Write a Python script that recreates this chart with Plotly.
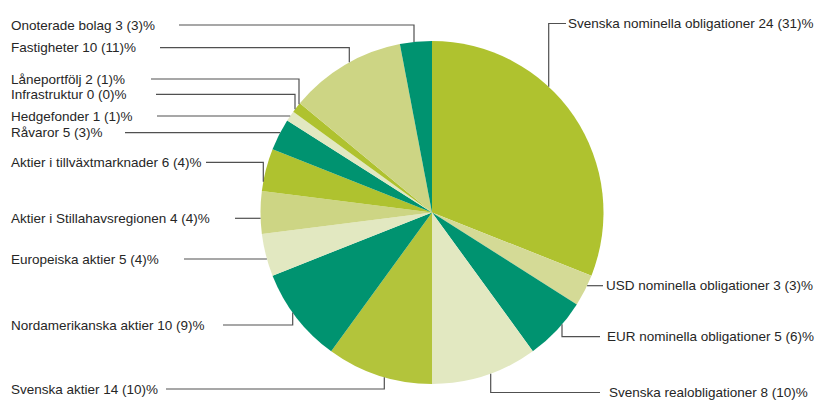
import math
import plotly.graph_objects as go

# ---- data ----
categories = [
    "Svenska nominella obligationer", "USD nominella obligationer",
    "EUR nominella obligationer", "Svenska realobligationer",
    "Svenska aktier", "Nordamerikanska aktier", "Europeiska aktier",
    "Aktier i Stillahavsregionen", "Aktier i tillväxtmarknader",
    "Råvaror", "Hedgefonder", "Infrastruktur", "Låneportfölj",
    "Fastigheter", "Onoterade bolag",
]
current_values = [24, 3, 5, 8, 14, 10, 5, 4, 6, 5, 1, 0, 2, 10, 3]
previous_values = [31, 3, 6, 10, 10, 9, 4, 4, 4, 3, 1, 0, 1, 11, 3]  # drawn in the pie

# ---- style ----
GREEN = "#afc22f"
GREEN2 = "#b3c43b"
LIGHT = "#cdd584"
LIGHT2 = "#d4da96"
VLIGHT = "#e2e8c1"
TEAL = "#009370"
colors = [GREEN, LIGHT2, TEAL, VLIGHT, GREEN2, TEAL, VLIGHT, LIGHT,
          GREEN, TEAL, VLIGHT, LIGHT, GREEN, LIGHT, TEAL]

W, H = 819, 401
CX, CY, R = 432.0, 212.5, 171.5

# label layout: (side, text_x, text_y, line_start_x, elbow_x or None)
label_layout = [
    ("R", 566, 23.5, 566, 548.7),
    ("R", 604, 285.7, 603, None),
    ("R", 605, 336.7, 600, 562),
    ("R", 607, 392.5, 600, 490.7),
    ("L", 9, 389, 166, 384.3),
    ("L", 9, 325, 223, 292.7),
    ("L", 9, 259, 184, None),
    ("L", 9, 218.3, 235, None),
    ("L", 9, 162.3, 206, 263.3),
    ("L", 9, 132.7, 125, None),
    ("L", 9, 116, 157, None),
    ("L", 9, 94.3, 156, 295),
    ("L", 9, 79, 151, 299),
    ("L", 9, 47.7, 160, 349.3),
    ("L", 9, 25, 179, 414),
]

fig = go.Figure()
fig.add_trace(go.Pie(
    labels=categories, values=previous_values, sort=False,
    direction="clockwise", rotation=0, textinfo="none",
    marker=dict(colors=colors, line=dict(width=0)),
    domain=dict(x=[(CX - R) / W, (CX + R) / W],
                y=[(H - CY - R) / H, (H - CY + R) / H]),
    showlegend=False, hoverinfo="label+value",
))

LINE_COLOR = "#505050"
annotations = []
shapes = []
for cat, cur, prev, (side, tx, ty, lx, ex) in zip(
        categories, current_values, previous_values, label_layout):
    annotations.append(dict(
        x=tx, y=ty, xref="x", yref="y", text=f"{cat} {cur} ({prev})%",
        showarrow=False, xanchor="left", yanchor="middle",
        font=dict(family="Liberation Sans, Arial", size=13.5, color="#262626"),
    ))
    if ex is None:
        # straight line to the pie edge
        dy = ty - CY
        dx = math.sqrt(max(R * R - dy * dy, 0))
        px = CX + dx if side == "R" else CX - dx
        path = f"M {lx} {ty} L {px} {ty}"
    else:
        dx = ex - CX
        dy = math.sqrt(max(R * R - dx * dx, 0))
        py = CY - dy if ty < CY else CY + dy
        path = f"M {lx} {ty} L {ex} {ty} L {ex} {py}"
    shapes.append(dict(type="path", path=path, xref="x", yref="y",
                       line=dict(color=LINE_COLOR, width=1.2)))

fig.update_layout(
    width=W, height=H, margin=dict(l=0, r=0, t=0, b=0),
    paper_bgcolor="white", plot_bgcolor="rgba(0,0,0,0)",
    xaxis=dict(range=[0, W], visible=False, fixedrange=True),
    yaxis=dict(range=[H, 0], visible=False, fixedrange=True),
    annotations=annotations, shapes=shapes,
)
fig.write_html("out.html")
